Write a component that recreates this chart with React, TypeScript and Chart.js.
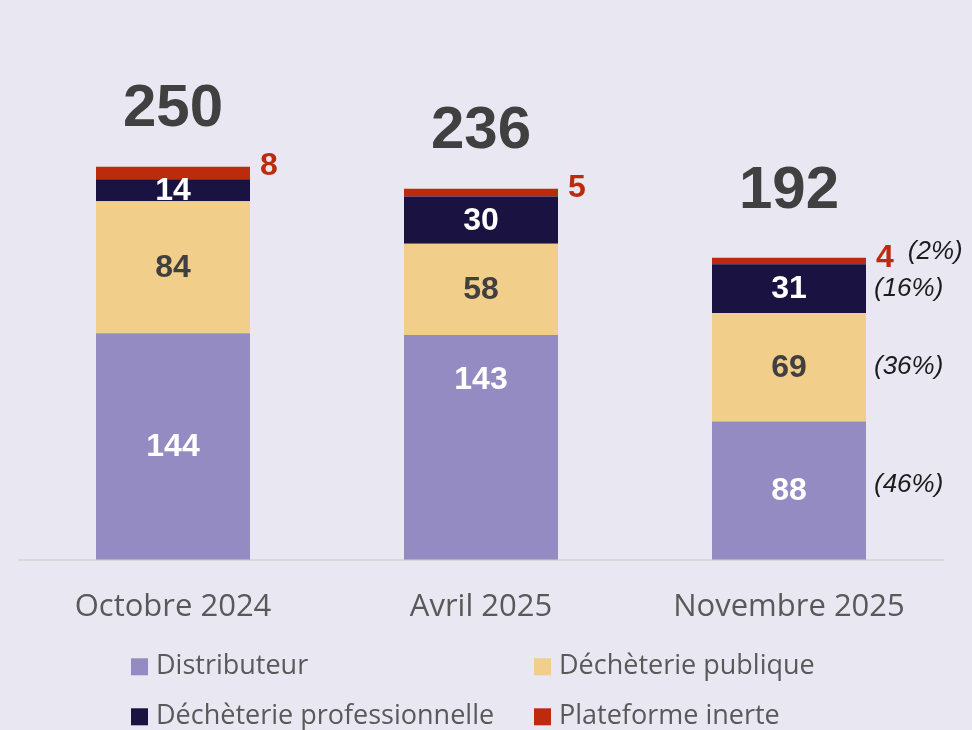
import React, { useEffect, useRef } from "react";
import { Chart, registerables } from "chart.js";

Chart.register(...registerables);

// ---- data ----
const categories = ["Octobre 2024", "Avril 2025", "Novembre 2025"];
const seriesNames = [
  "Distributeur",
  "Déchèterie publique",
  "Déchèterie professionnelle",
  "Plateforme inerte",
];
const distributeur = [144, 143, 88];
const dechetteriePublique = [84, 58, 69];
const dechetteriePro = [14, 30, 31];
const plateformeInerte = [8, 5, 4];
const shareCategoryIndex = 2; // category whose shares (%) are shown

// ---- styles ----
const BG = "#E9E7F2";
const seriesColors = ["#948BC3", "#F2CE8B", "#1A1240", "#BC2C0C"];
const segmentLabelColors = ["#FFFFFF", "#404040", "#FFFFFF"];
const totalLabelLift = [57, 57, 66];
const distributeurLabelShift = [0, -68, 0];
const NUM_FONT = "'Liberation Sans', Arial, sans-serif";
const TXT_FONT = "'Open Sans', sans-serif";

const seriesData = [distributeur, dechetteriePublique, dechetteriePro, plateformeInerte];
const totals = categories.map((_, i) =>
  seriesData.reduce((s, arr) => s + arr[i], 0)
);

const labelsPlugin = {
  id: "customLabels",
  afterDatasetsDraw(chart: any) {
    const ctx = chart.ctx as CanvasRenderingContext2D;
    ctx.save();
    // segment labels (first three series)
    for (let d = 0; d < 3; d++) {
      const meta = chart.getDatasetMeta(d);
      meta.data.forEach((bar: any, i: number) => {
        const v = seriesData[d][i];
        const shift = d === 0 ? distributeurLabelShift[i] : 0;
        ctx.font = `bold 32px ${NUM_FONT}`;
        ctx.fillStyle = segmentLabelColors[d];
        ctx.textAlign = "center";
        ctx.textBaseline = "middle";
        ctx.fillText(String(v), bar.x, (bar.y + bar.base) / 2 + shift + 1);
      });
    }
    // red labels (plateforme inerte) to the right of the bar
    const redMeta = chart.getDatasetMeta(3);
    redMeta.data.forEach((bar: any, i: number) => {
      ctx.font = `bold 32px ${NUM_FONT}`;
      ctx.fillStyle = seriesColors[3];
      ctx.textAlign = "left";
      ctx.textBaseline = "middle";
      const lx = bar.x + bar.width / 2 + 10;
      const txt = String(plateformeInerte[i]);
      ctx.fillText(txt, lx, bar.y);
      if (i === shareCategoryIndex) {
        const w = ctx.measureText(txt).width;
        ctx.font = `italic 26px ${NUM_FONT}`;
        ctx.fillStyle = "#1C1C1C";
        const pct = Math.round((plateformeInerte[i] / totals[i]) * 100);
        ctx.fillText(`(${pct}%)`, lx + w + 14, bar.y - 6);
      }
    });
    // shares for the other series of chosen category
    for (let d = 0; d < 3; d++) {
      const bar: any = chart.getDatasetMeta(d).data[shareCategoryIndex];
      const v = seriesData[d][shareCategoryIndex];
      const pct = Math.round((v / totals[shareCategoryIndex]) * 100);
      ctx.font = `italic 26px ${NUM_FONT}`;
      ctx.fillStyle = "#1C1C1C";
      ctx.textAlign = "left";
      ctx.textBaseline = "middle";
      const dy = d === 0 ? -6 : 0;
      ctx.fillText(`(${pct}%)`, bar.x + bar.width / 2 + 8, (bar.y + bar.base) / 2 + dy);
    }
    // totals
    redMeta.data.forEach((bar: any, i: number) => {
      ctx.font = `bold 60px ${NUM_FONT}`;
      ctx.fillStyle = "#404040";
      ctx.textAlign = "center";
      ctx.textBaseline = "middle";
      ctx.fillText(String(totals[i]), bar.x, bar.y - totalLabelLift[i]);
    });
    ctx.restore();
  },
  afterDraw(chart: any) {
    // two-column legend
    const ctx = chart.ctx as CanvasRenderingContext2D;
    const area = chart.chartArea;
    const colX = [area.left + 112, area.left + 515];
    const rowY = [area.bottom + 107, area.bottom + 157];
    ctx.save();
    chart.data.datasets.forEach((ds: any, k: number) => {
      const x = colX[k % 2];
      const y = rowY[Math.floor(k / 2)];
      ctx.fillStyle = ds.backgroundColor;
      ctx.fillRect(x, y - 8.5, 17, 17);
      ctx.font = `27px ${TXT_FONT}`;
      ctx.fillStyle = "#595959";
      ctx.textAlign = "left";
      ctx.textBaseline = "middle";
      ctx.fillText(ds.label, x + 25, y);
    });
    ctx.restore();
  },
};

export default function App() {
  const canvasRef = useRef<HTMLCanvasElement | null>(null);

  useEffect(() => {
    document.body.style.margin = "0";
    document.body.style.background = BG;
    const canvas = canvasRef.current;
    if (!canvas) return;
    const chart = new Chart(canvas, {
      type: "bar",
      data: {
        labels: categories,
        datasets: seriesNames.map((name, k) => ({
          label: name,
          data: seriesData[k],
          backgroundColor: seriesColors[k],
          borderWidth: 0,
          barPercentage: 0.5,
          categoryPercentage: 1,
        })),
      },
      options: {
        responsive: false,
        animation: false,
        layout: { padding: { top: 88, left: 19, right: 29, bottom: 75 } },
        plugins: {
          legend: { display: false },
          tooltip: { enabled: false },
        },
        scales: {
          x: {
            stacked: true,
            grid: { display: false, drawTicks: false },
            border: { display: true, color: "#D9D9D9", width: 2 },
            ticks: {
              color: "#595959",
              font: { family: TXT_FONT, size: 31 },
              padding: 29,
            },
          },
          y: {
            stacked: true,
            display: false,
            min: 0,
            max: 300,
          },
        },
      },
      plugins: [labelsPlugin],
    });
    return () => chart.destroy();
  }, []);

  return (
    <div style={{ width: 972, height: 730, background: BG }}>
      <canvas ref={canvasRef} width={972} height={730} style={{ display: "block" }} />
    </div>
  );
}
